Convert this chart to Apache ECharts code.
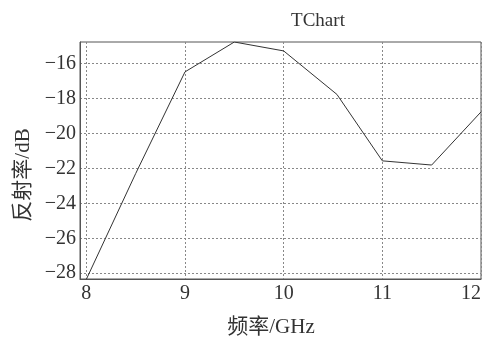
<!DOCTYPE html>
<html><head><meta charset="utf-8">
<script src="https://cdn.jsdelivr.net/npm/echarts@6/dist/echarts.min.js"></script>
<style>html,body{margin:0;padding:0;background:#fff}#c{width:487px;height:344px}</style>
</head><body><div id="c"></div>
<script>
const freq = [8, 8.5, 9, 9.5, 10, 10.54, 11, 11.5, 12];
const reflect = [-28.35, -22.3, -16.48, -14.77, -15.28, -17.77, -21.57, -21.81, -18.77];
const xTicks = [8, 9, 10, 11, 12];
const yTicks = [-28, -26, -24, -22, -20, -18, -16];
const titleText = 'TChart';
const xName = '频率/GHz';
const yName = '反射率/dB';

const FONT = '"Liberation Serif", "Noto Sans CJK SC", serif';
const chart = echarts.init(document.getElementById('c'), null, {renderer: 'canvas'});
chart.setOption({
  animation: false,
  title: {text: titleText, left: 313, top: 7, textAlign: 'center',
    textStyle: {fontFamily: FONT, fontSize: 19, fontWeight: 'normal', color: '#333'}},
  grid: {left: 80, right: 6, top: 42, bottom: 65, show: true, borderColor: '#555', borderWidth: 1,
    backgroundColor: 'transparent', containLabel: false, outerBoundsMode: 'none'},
  xAxis: {
    type: 'value', min: 7.936, max: 12,
    name: xName, nameLocation: 'middle', nameGap: 38,
    nameTextStyle: {fontFamily: FONT, fontSize: 21, color: '#333', padding: [0, 19, 0, 0]},
    axisLine: {show: true, lineStyle: {color: '#555'}},
    axisTick: {show: false, customValues: xTicks},
    axisLabel: {customValues: xTicks, fontFamily: FONT, fontSize: 20, color: '#333', margin: 5,
      hideOverlap: false, alignMaxLabel: 'right'},
    splitLine: {show: true, lineStyle: {color: '#888', type: [2, 2], width: 1}}
  },
  yAxis: {
    type: 'value', min: -28.33, max: -14.77,
    name: yName, nameLocation: 'middle', nameGap: 46,
    nameTextStyle: {fontFamily: FONT, fontSize: 21, color: '#333', padding: [0, 29, 0, 0]},
    axisLine: {show: true, lineStyle: {color: '#555'}},
    axisTick: {show: false, customValues: yTicks},
    axisLabel: {customValues: yTicks, fontFamily: FONT, fontSize: 20, color: '#333', margin: 4,
      formatter: v => String(v).replace('-', '\u2212')},
    splitLine: {show: true, lineStyle: {color: '#888', type: [2, 2], width: 1}}
  },
  series: [{
    type: 'line', data: freq.map((f, i) => [f, reflect[i]]),
    showSymbol: false, clip: true,
    lineStyle: {color: '#333', width: 1}
  }]
});
</script></body></html>
